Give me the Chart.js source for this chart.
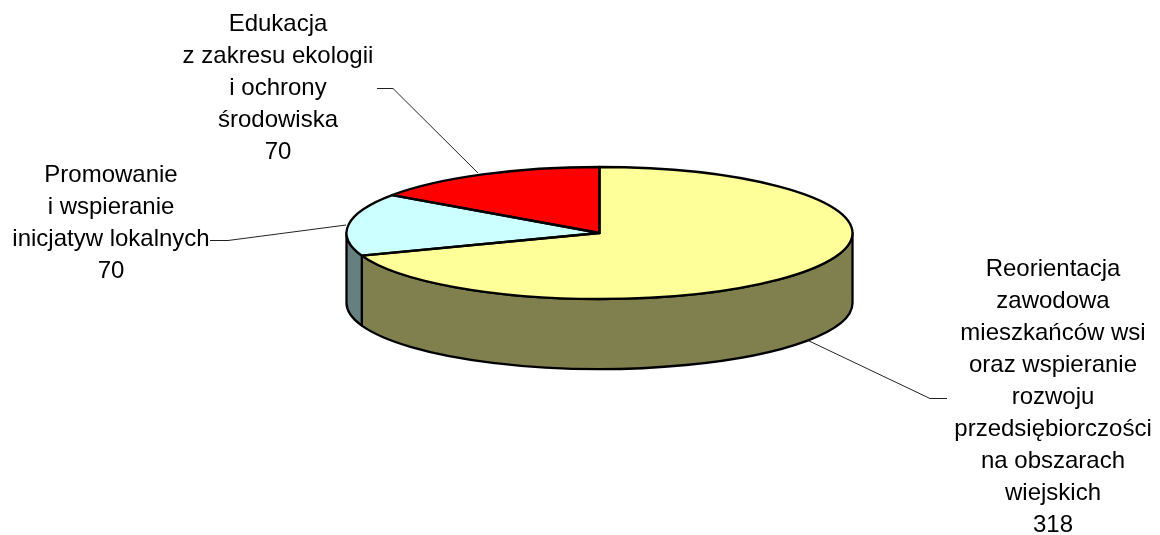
<!DOCTYPE html>
<html>
<head>
<meta charset="utf-8">
<style>
  html, body { margin: 0; padding: 0; background: #fff; }
  canvas { display: block; }
</style>
<script src="https://cdn.jsdelivr.net/npm/chart.js@4"></script>
</head>
<body>
<canvas id="pie3d" width="1160" height="535"></canvas>
<script>
// data
var categories = [
  "Reorientacja zawodowa mieszkańców wsi oraz wspieranie rozwoju przedsiębiorczości na obszarach wiejskich",
  "Promowanie i wspieranie inicjatyw lokalnych",
  "Edukacja z zakresu ekologii i ochrony środowiska"
];
var values = [318, 70, 70];
var topColors = ["#FFFF99", "#CCFFFF", "#FF0000"];
var wallColors = ["#807F4E", "#667F7F", "#800000"];

// label text, wrapped the way the original wraps it
var labelLines = [
  ["Reorientacja", "zawodowa", "mieszkańców wsi", "oraz wspieranie", "rozwoju", "przedsiębiorczości", "na obszarach", "wiejskich", "318"],
  ["Promowanie", "i wspieranie", "inicjatyw lokalnych", "70"],
  ["Edukacja", "z zakresu ekologii", "i ochrony", "środowiska", "70"]
];

// ── layout ──
var disc = { cx: 599.5, cy: 233, rx: 253, ry: 66, depth: 70 };
var labelPos = [
  { x: 1053, y: 276 },
  { x: 111, y: 182 },
  { x: 278, y: 31 }
];
var leaders = [
  [[947, 398.5], [930, 398.5], [807, 340]],
  [[210, 240.5], [228, 240.5], [346, 225]],
  [[377, 88.5], [393, 88.5], [478, 173]]
];

var pie3dPlugin = {
  id: "pie3d",
  beforeDatasetsDraw: function(chart) {
    var ctx = chart.ctx;
    var arcs = chart.getDatasetMeta(0).data;
    var d = disc;

    // side wall, only the part of each slice that faces the viewer
    ctx.save();
    ctx.lineWidth = 2.3;
    ctx.strokeStyle = "#000";
    ctx.lineJoin = "round";
    arcs.forEach(function(arc, i) {
      var a = Math.max(arc.startAngle, 0);
      var b = Math.min(arc.endAngle, Math.PI);
      if (b <= a) return;
      ctx.beginPath();
      ctx.ellipse(d.cx, d.cy, d.rx, d.ry, 0, a, b);
      ctx.ellipse(d.cx, d.cy + d.depth, d.rx, d.ry, 0, b, a, true);
      ctx.closePath();
      ctx.fillStyle = wallColors[i];
      ctx.fill();
      ctx.stroke();
    });
    ctx.restore();

    // squash the library's own arcs into the tilted disc
    var first = arcs[0];
    ctx.save();
    ctx.translate(d.cx, d.cy);
    ctx.scale(d.rx / first.outerRadius, d.ry / first.outerRadius);
    ctx.translate(-first.x, -first.y);
  },
  afterDatasetsDraw: function(chart) {
    var ctx = chart.ctx;
    var arcs = chart.getDatasetMeta(0).data;
    var d = disc;
    ctx.restore();

    // outlines go here so the stroke is not squashed with the arcs
    ctx.save();
    ctx.lineWidth = 2.3;
    ctx.strokeStyle = "#000";
    ctx.lineJoin = "round";
    arcs.forEach(function(arc) {
      ctx.beginPath();
      ctx.moveTo(d.cx, d.cy);
      ctx.ellipse(d.cx, d.cy, d.rx, d.ry, 0, arc.startAngle, arc.endAngle);
      ctx.closePath();
      ctx.stroke();
    });

    // leader lines
    ctx.lineWidth = 1;
    ctx.strokeStyle = "#222";
    leaders.forEach(function(pts) {
      ctx.beginPath();
      pts.forEach(function(p, i) {
        if (i === 0) ctx.moveTo(p[0], p[1]);
        else ctx.lineTo(p[0], p[1]);
      });
      ctx.stroke();
    });

    // labels
    ctx.fillStyle = "#000";
    ctx.font = "24px 'Liberation Sans', Arial, sans-serif";
    ctx.textAlign = "center";
    ctx.textBaseline = "alphabetic";
    labelLines.forEach(function(lines, i) {
      lines.forEach(function(line, j) {
        ctx.fillText(line, labelPos[i].x, labelPos[i].y + j * 32);
      });
    });
    ctx.restore();
  }
};

new Chart(document.getElementById("pie3d").getContext("2d"), {
  type: "pie",
  data: {
    labels: categories,
    datasets: [{
      data: values,
      backgroundColor: topColors,
      borderWidth: 0
    }]
  },
  options: {
    responsive: false,
    animation: false,
    plugins: {
      legend: { display: false },
      tooltip: { enabled: false }
    }
  },
  plugins: [pie3dPlugin]
});
</script>
</body>
</html>
